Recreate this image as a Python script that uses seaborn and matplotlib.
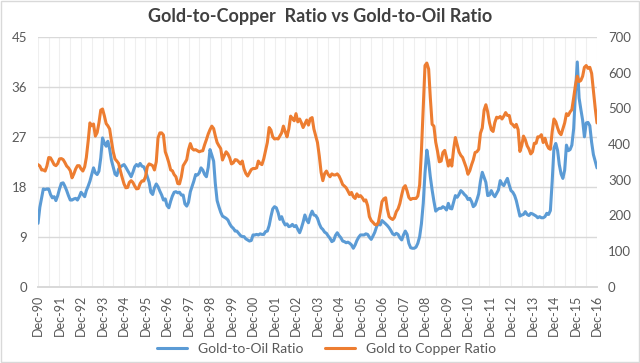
import pandas as pd
import seaborn as sns
import matplotlib.pyplot as plt
import matplotlib.dates as mdates
from matplotlib.patches import Rectangle

# monthly values, Dec-90 .. Dec-16 (one row = 12 months)
gold_oil = [
    11.4, 14.3, 16.0, 17.6, 17.5, 17.6, 17.6, 16.6, 16.0, 16.2, 15.5, 16.4,
    17.6, 18.6, 18.7, 18.1, 17.3, 16.4, 15.6, 15.6, 15.8, 15.9, 15.6, 16.2,
    17.0, 16.6, 16.2, 17.3, 18.1, 19.0, 20.2, 21.4, 20.5, 20.2, 20.8, 23.2,
    26.8, 25.9, 25.3, 26.2, 24.8, 22.8, 21.5, 20.3, 20.0, 21.2, 21.6, 21.8,
    22.0, 21.5, 20.9, 20.4, 19.8, 20.6, 21.6, 22.0, 21.7, 22.2, 21.7, 21.6,
    20.9, 19.8, 18.8, 17.0, 16.6, 17.8, 18.5, 18.0, 17.2, 16.5, 15.6, 15.8,
    14.6, 14.2, 15.4, 16.3, 17.0, 17.1, 16.9, 17.0, 16.5, 16.5, 14.9, 14.5,
    15.2, 17.1, 18.1, 19.0, 20.2, 20.1, 20.5, 21.4, 21.0, 20.2, 19.8, 21.5,
    24.7, 23.7, 22.6, 18.6, 15.5, 14.4, 13.4, 12.7, 12.5, 12.3, 12.0, 11.3,
    10.8, 10.5, 10.0, 10.0, 9.6, 9.2, 9.0, 9.0, 8.6, 8.4, 8.2, 8.3,
    9.3, 9.3, 9.4, 9.3, 9.5, 9.4, 9.4, 9.9, 10.0, 11.0, 12.6, 14.0,
    14.4, 14.2, 13.3, 12.1, 12.6, 11.7, 11.1, 11.3, 10.8, 10.9, 11.2, 10.8,
    11.0, 10.3, 9.7, 10.5, 11.6, 12.9, 12.0, 11.5, 12.8, 13.6, 12.9, 12.8,
    12.3, 11.3, 10.6, 10.3, 9.8, 9.6, 9.1, 8.7, 8.1, 8.3, 9.2, 9.7,
    9.2, 8.8, 8.2, 8.1, 7.9, 8.0, 7.8, 7.5, 6.9, 7.5, 8.3, 8.9,
    9.3, 9.3, 9.3, 9.5, 9.4, 8.9, 8.5, 9.1, 9.8, 10.8, 11.4, 11.1,
    11.9, 11.6, 11.3, 11.0, 10.6, 10.1, 9.5, 9.3, 9.6, 9.4, 8.8, 8.4,
    9.3, 10.0, 9.4, 7.8, 7.0, 6.9, 6.9, 7.1, 7.8, 9.0, 11.3, 15.0,
    20.5, 24.6, 22.5, 19.8, 17.4, 15.4, 13.6, 13.9, 14.1, 14.1, 14.4, 14.2,
    13.8, 15.0, 14.1, 14.0, 15.2, 16.4, 16.1, 16.6, 17.3, 17.0, 16.6, 16.3,
    15.7, 15.9, 15.3, 14.4, 14.7, 15.6, 16.7, 19.0, 20.6, 19.7, 18.8, 16.4,
    16.5, 17.3, 16.6, 16.2, 16.8, 17.4, 19.1, 18.5, 18.2, 18.9, 19.5, 18.3,
    17.3, 17.0, 16.4, 15.5, 14.1, 12.7, 12.9, 13.0, 13.5, 13.0, 12.8, 13.2,
    13.1, 12.9, 12.7, 12.4, 12.6, 12.4, 12.4, 12.6, 13.2, 13.0, 13.7, 19.0,
    25.0, 25.8, 24.5, 22.0, 20.3, 19.5, 21.0, 25.5, 24.5, 24.7, 25.5, 28.5,
    35.0, 40.5, 34.0, 32.0, 30.0, 27.0, 29.5, 29.6, 29.0, 26.0, 23.8, 22.6,
    21.4,
]

gold_copper = [
    342, 338, 327, 327, 324, 338, 362, 361, 352, 342, 339, 345,
    358, 359, 356, 348, 338, 333, 325, 305, 316, 330, 339, 339,
    330, 324, 336, 362, 408, 459, 451, 456, 422, 432, 459, 495,
    498, 479, 457, 451, 442, 409, 378, 358, 352, 345, 324, 305,
    288, 277, 278, 292, 297, 292, 282, 274, 275, 289, 296, 296,
    308, 336, 344, 342, 339, 327, 350, 417, 431, 431, 425, 378,
    364, 347, 327, 325, 314, 308, 289, 288, 308, 339, 347, 356,
    384, 401, 387, 383, 384, 381, 378, 380, 381, 398, 412, 428,
    440, 450, 443, 423, 404, 395, 387, 355, 367, 378, 372, 361,
    344, 347, 356, 355, 350, 344, 352, 330, 317, 310, 319, 328,
    331, 331, 333, 352, 345, 342, 358, 381, 404, 446, 439, 420,
    414, 415, 414, 422, 431, 450, 434, 420, 442, 478, 471, 465,
    485, 462, 470, 460, 446, 456, 467, 453, 471, 474, 442, 423,
    404, 366, 320, 297, 317, 324, 314, 308, 316, 313, 313, 316,
    310, 299, 286, 282, 277, 268, 258, 264, 252, 247, 260, 252,
    255, 249, 240, 243, 227, 196, 185, 180, 174, 173, 180, 208,
    238, 246, 249, 218, 196, 191, 188, 194, 210, 218, 233, 257,
    277, 283, 268, 250, 244, 247, 247, 247, 254, 285, 380, 500,
    620, 627, 610, 530, 455, 450, 405, 380, 350, 352, 376, 382,
    362, 338, 355, 338, 385, 418, 398, 378, 368, 362, 348, 334,
    315, 325, 342, 355, 376, 378, 385, 430, 445, 495, 510, 490,
    460, 440, 435, 460, 475, 473, 477, 470, 478, 488, 480, 480,
    458, 454, 447, 455, 440, 379, 395, 422, 412, 395, 386, 372,
    378, 402, 402, 420, 420, 426, 404, 416, 398, 388, 385, 435,
    470, 462, 445, 432, 426, 442, 459, 485, 480, 490, 496, 530,
    565, 590, 575, 578, 590, 615, 620, 612, 615, 598, 550, 500,
    459,
]

left_ticks = [0, 9, 18, 27, 36, 45]
right_ticks = [0, 100, 200, 300, 400, 500, 600, 700]

months = pd.date_range("1990-12-01", periods=len(gold_oil), freq="MS")
df = pd.DataFrame({"month": months,
                   "Gold-to-Oil Ratio": gold_oil,
                   "Gold to Copper Ratio": gold_copper})

blue = "#5B9BD5"
orange = "#ED7D31"
text_col = "#595959"
grid_col = "#D9D9D9"

sns.set_theme(style="white")
plt.rcParams["font.family"] = ["Lato", "DejaVu Sans"]

fig = plt.figure(figsize=(6.4, 3.63), dpi=100)
ax = fig.add_axes([0.0594, 0.2107, 0.8734, 0.6873])
ax2 = ax.twinx()

sns.lineplot(data=df, x="month", y="Gold-to-Oil Ratio", ax=ax, color=blue,
             linewidth=2.2, label="Gold-to-Oil Ratio")
sns.lineplot(data=df, x="month", y="Gold to Copper Ratio", ax=ax2, color=orange,
             linewidth=2.2, label="Gold to Copper Ratio")

ax.set_ylim(0, 45)
ax.set_yticks(left_ticks)
ax2.set_ylim(0, 700)
ax2.set_yticks(right_ticks)
ax.set_xlim(months[0], months[-1])

ax.xaxis.set_major_locator(mdates.MonthLocator(bymonth=12))
ax.xaxis.set_minor_locator(mdates.MonthLocator(bymonth=6))
ax.xaxis.set_major_formatter(mdates.DateFormatter("%b-%y"))
plt.setp(ax.get_xticklabels(), rotation=90)

ax.grid(axis="y", color=grid_col, linewidth=1)
ax.grid(axis="x", which="both", color="#EFEFEF", linewidth=0.8)
ax2.grid(False)

for a in (ax, ax2):
    a.set_xlabel("")
    a.set_ylabel("")
    for s in ("top", "left", "right"):
        a.spines[s].set_visible(False)
    a.spines["bottom"].set_color(grid_col)
    a.tick_params(axis="y", length=0, labelsize=9.5, colors=text_col)
ax.tick_params(axis="y", pad=8)
ax2.tick_params(axis="y", pad=8)
ax.tick_params(axis="x", which="major", length=4, color=grid_col,
               labelsize=9, colors=text_col, pad=2)
ax.tick_params(axis="x", which="minor", length=0)
ax.tick_params(axis="x", which="major", labelcolor=text_col)

h1, l1 = ax.get_legend_handles_labels()
h2, l2 = ax2.get_legend_handles_labels()
for a in (ax, ax2):
    if a.get_legend() is not None:
        a.get_legend().remove()
fig.legend(h1 + h2, l1 + l2, loc="center", bbox_to_anchor=(0.51, 0.038), ncol=2,
           frameon=False, fontsize=10, handlelength=2.2, columnspacing=1.5,
           labelcolor=text_col)

fig.text(0.5, 0.955, "Gold-to-Copper  Ratio vs Gold-to-Oil Ratio", ha="center",
         va="center", fontsize=13, fontweight="bold", color="#404040")

fig.patches.append(Rectangle((0.001, 0.002), 0.997, 0.996, transform=fig.transFigure,
                             fill=False, edgecolor=grid_col, linewidth=1))

fig.savefig("out.png", dpi=100)
